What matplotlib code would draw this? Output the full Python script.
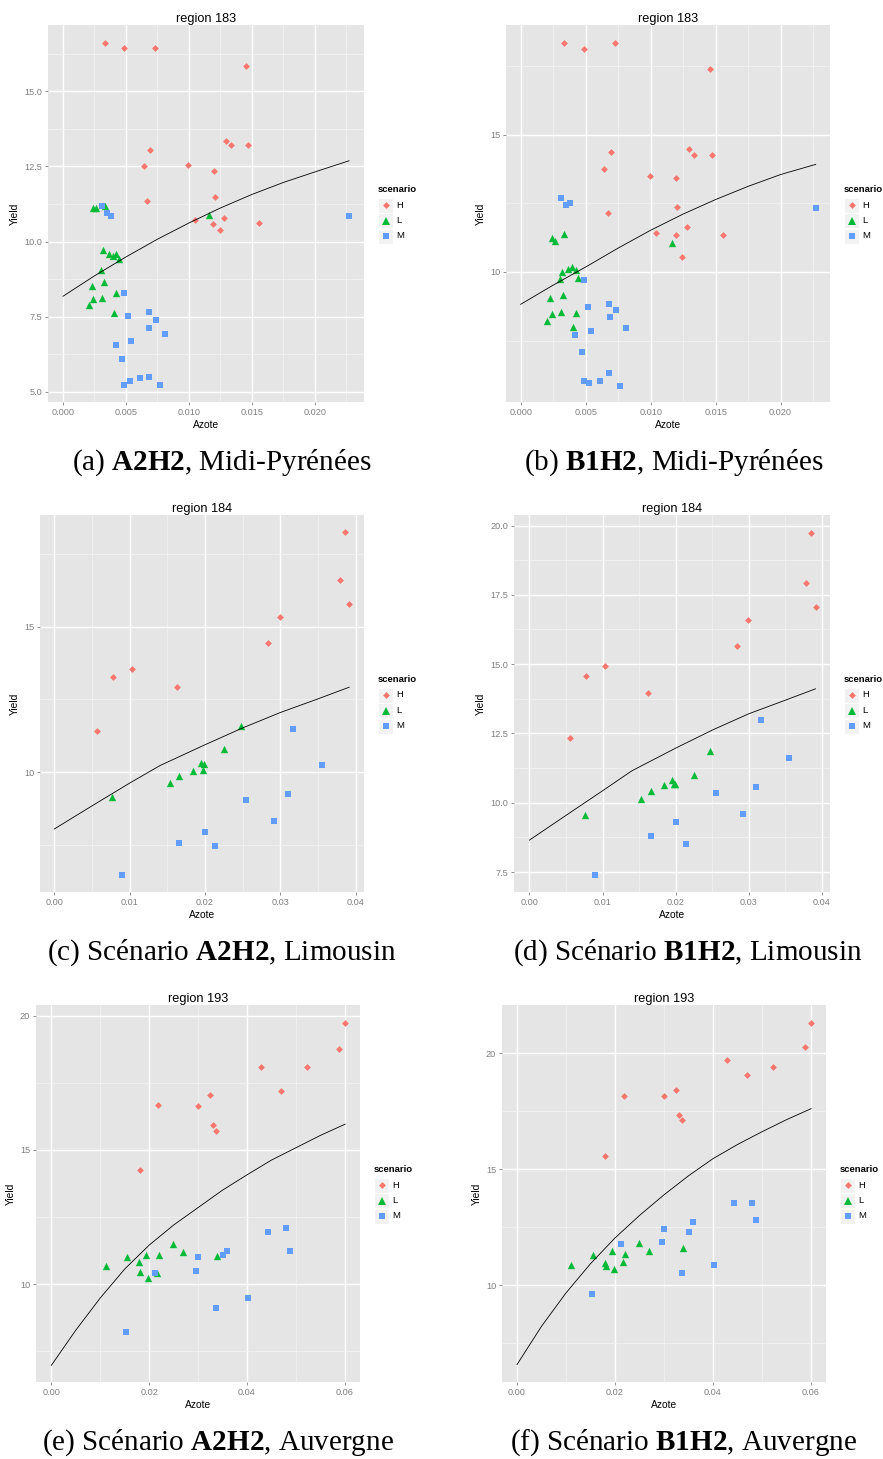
import matplotlib
matplotlib.use("Agg")
import matplotlib.pyplot as plt
from matplotlib.patches import Rectangle
from matplotlib.lines import Line2D

plt.rcParams['font.family'] = ['Liberation Sans', 'DejaVu Sans']
plt.rcParams['mathtext.fontset'] = 'custom'
plt.rcParams['mathtext.rm'] = 'Liberation Serif'
plt.rcParams['mathtext.bf'] = 'Liberation Serif:bold'

# ---------------- data ----------------
# region 183 (Midi-Pyrenees)
h183_x = [0.00333, 0.00487, 0.00728, 0.01455, 0.01294, 0.01331, 0.01471, 0.00693, 0.0064,
          0.00995, 0.01198, 0.00669, 0.01206, 0.01045, 0.01278, 0.01193, 0.01243, 0.01558]
h183_a = [16.62, 16.43, 16.46, 15.84, 13.36, 13.23, 13.2, 13.04, 12.5,
          12.56, 12.34, 11.36, 11.48, 10.71, 10.8, 10.58, 10.4, 10.61]
h183_b = [18.36, 18.11, 18.36, 17.41, 14.48, 14.28, 14.25, 14.38, 13.77,
          13.5, 13.43, 12.15, 12.36, 11.41, 11.64, 11.34, 10.54, 11.34]
l183_x = [0.00238, 0.00262, 0.00333, 0.01161, 0.00315, 0.00362, 0.00394, 0.00423, 0.00444,
          0.00299, 0.00323, 0.00228, 0.00423, 0.00241, 0.00307, 0.00204, 0.00402]
l183_a = [11.13, 11.12, 11.18, 10.88, 9.73, 9.58, 9.53, 9.58, 9.43,
          9.07, 8.66, 8.52, 8.3, 8.1, 8.12, 7.88, 7.63]
l183_b = [11.25, 11.13, 11.37, 11.06, 10.0, 10.12, 10.18, 10.06, 9.79,
          9.76, 9.15, 9.05, 8.52, 8.46, 8.54, 8.21, 8.0]
m183_x = [0.00312, 0.00347, 0.00378, 0.0227, 0.00487, 0.00519, 0.0068, 0.00735, 0.00685,
          0.0081, 0.00418, 0.00542, 0.00468, 0.00487, 0.00529, 0.00611, 0.0068, 0.00767]
m183_a = [11.2, 10.96, 10.84, 10.84, 8.3, 7.53, 7.66, 7.4, 7.12,
          6.93, 6.57, 6.69, 6.08, 5.23, 5.37, 5.47, 5.5, 5.22]
m183_b = [12.71, 12.45, 12.52, 12.32, 9.72, 8.71, 8.84, 8.6, 8.36,
          7.96, 7.71, 7.85, 7.08, 6.03, 5.96, 6.03, 6.33, 5.86]
c183_x = [0.0, 0.0025, 0.005, 0.0075, 0.010, 0.0125, 0.015, 0.0175, 0.020, 0.0227]
c183_a = [8.18, 8.86, 9.49, 10.08, 10.62, 11.12, 11.57, 11.97, 12.32, 12.69]
c183_b = [8.82, 9.52, 10.18, 10.87, 11.52, 12.11, 12.64, 13.12, 13.55, 13.92]

# region 184 (Limousin)
h184_x = [0.03854, 0.03788, 0.03912, 0.02992, 0.02833, 0.0103, 0.00773, 0.01622, 0.00561]
h184_c = [18.25, 16.62, 15.79, 15.34, 14.45, 13.56, 13.27, 12.92, 11.4]
h184_d = [19.74, 17.93, 17.07, 16.6, 15.66, 14.93, 14.57, 13.97, 12.33]
l184_x = [0.0076, 0.01529, 0.01657, 0.01843, 0.01949, 0.01993, 0.01971, 0.02254, 0.02471]
l184_c = [9.14, 9.61, 9.87, 10.03, 10.31, 10.29, 10.08, 10.79, 11.57]
l184_d = [9.57, 10.12, 10.42, 10.64, 10.81, 10.69, 10.66, 11.01, 11.88]
m184_x = [0.00897, 0.01657, 0.01998, 0.02139, 0.0255, 0.02922, 0.03098, 0.03173, 0.03549]
m184_c = [6.44, 7.56, 7.94, 7.44, 9.05, 8.3, 9.23, 11.49, 10.23]
m184_d = [7.38, 8.81, 9.3, 8.5, 10.34, 9.58, 10.55, 12.97, 11.6]
c184_x = [0.0, 0.0056, 0.010, 0.014, 0.020, 0.025, 0.030, 0.035, 0.03912]
c184_c = [8.04, 8.93, 9.62, 10.22, 10.94, 11.52, 12.05, 12.52, 12.92]
c184_d = [8.65, 9.65, 10.43, 11.15, 11.97, 12.62, 13.21, 13.70, 14.11]

# region 193 (Auvergne)
h193_x = [0.06007, 0.05878, 0.04293, 0.05231, 0.04687, 0.03252, 0.02184, 0.03007, 0.03306, 0.0336, 0.01803]
h193_e = [19.74, 18.76, 18.1, 18.08, 17.21, 17.03, 16.66, 16.64, 15.94, 15.69, 14.26]
h193_f = [21.31, 20.27, 19.71, 19.4, 19.07, 18.43, 18.16, 18.16, 17.33, 17.13, 15.56]
l193_x = [0.01109, 0.01551, 0.01789, 0.01939, 0.02204, 0.0249, 0.02694, 0.03388, 0.0181, 0.01986, 0.0217]
l193_e = [10.68, 11.0, 10.83, 11.08, 11.08, 11.49, 11.18, 11.03, 10.45, 10.21, 10.41]
l193_f = [10.88, 11.29, 10.95, 11.48, 11.35, 11.82, 11.48, 11.61, 10.81, 10.7, 10.98]
m193_x = [0.01531, 0.02116, 0.03, 0.02952, 0.03517, 0.03592, 0.0336, 0.04027, 0.04429, 0.04796, 0.04878]
m193_e = [8.23, 10.43, 11.0, 10.48, 11.07, 11.24, 9.09, 9.49, 11.95, 12.08, 11.24]
m193_f = [9.63, 11.77, 12.41, 11.85, 12.27, 12.73, 10.5, 10.88, 13.52, 13.56, 12.82]
c193_x = [0.0, 0.005, 0.010, 0.015, 0.020, 0.025, 0.030, 0.035, 0.040, 0.045, 0.050, 0.055, 0.06007]
c193_e = [6.97, 8.28, 9.48, 10.56, 11.45, 12.2, 12.85, 13.5, 14.07, 14.62, 15.08, 15.54, 15.96]
c193_f = [6.57, 8.22, 9.66, 10.92, 12.03, 13.0, 13.89, 14.71, 15.45, 16.06, 16.61, 17.13, 17.61]

# tick labels
xt183 = [0.000, 0.005, 0.010, 0.015, 0.020]
xl183 = ["0.000", "0.005", "0.010", "0.015", "0.020"]
xt184 = [0.00, 0.01, 0.02, 0.03, 0.04]
xl184 = ["0.00", "0.01", "0.02", "0.03", "0.04"]
xt193 = [0.00, 0.02, 0.04, 0.06]
xl193 = ["0.00", "0.02", "0.04", "0.06"]
yt_a = [5.0, 7.5, 10.0, 12.5, 15.0]
yl_a = ["5.0", "7.5", "10.0", "12.5", "15.0"]
yt_b = [10, 15]
yl_b = ["10", "15"]
yt_c = [10, 15]
yl_c = ["10", "15"]
yt_d = [7.5, 10.0, 12.5, 15.0, 17.5, 20.0]
yl_d = ["7.5", "10.0", "12.5", "15.0", "17.5", "20.0"]
yt_e = [10, 15, 20]
yl_e = ["10", "15", "20"]
yt_f = [10, 15, 20]
yl_f = ["10", "15", "20"]

titles = ["region 183", "region 183", "region 184", "region 184", "region 193", "region 193"]
captions = [r"(a) $\mathbf{A2H2}$, Midi-Pyrénées",
            r"(b) $\mathbf{B1H2}$, Midi-Pyrénées",
            r"(c) Scénario $\mathbf{A2H2}$, Limousin",
            r"(d) Scénario $\mathbf{B1H2}$, Limousin",
            r"(e) Scénario $\mathbf{A2H2}$, Auvergne",
            r"(f) Scénario $\mathbf{B1H2}$, Auvergne"]
scenarios = ["H", "L", "M"]

# ---------------- style ----------------
COL = {"H": "#F8766D", "L": "#00BA38", "M": "#619CFF"}
MRK = {"H": "D", "L": "^", "M": "s"}
SZ = {"H": 12, "L": 28, "M": 22}

W, H = 883, 1459
fig = plt.figure(figsize=(W / 100, H / 100), dpi=100)
fig.patch.set_facecolor("white")


def fx(x):
    return x / W


def fy(y):
    return 1 - y / H


def add_ax(x0, y0, x1, y1):
    return fig.add_axes([fx(x0), fy(y1), (x1 - x0) / W, (y1 - y0) / H])


def minors(ticks, lo, hi):
    step = ticks[1] - ticks[0]
    out = []
    t = ticks[0] - step / 2
    while t < hi:
        if t > lo:
            out.append(t)
        t += step
    return out


def legend(ax_right, ax_top):
    x0 = ax_right + 14
    fig.text(fx(x0), fy(ax_top + 165), "scenario", fontsize=6.8, fontweight="bold",
             ha="left", va="center")
    for i, s in enumerate(scenarios):
        yc = ax_top + 180 + i * 15.5
        fig.add_artist(Rectangle((fx(x0), fy(yc + 7.5)), 15 / W, 15 / H,
                                 transform=fig.transFigure, facecolor="#F2F2F2",
                                 edgecolor="white", lw=0.8))
        fig.add_artist(Line2D([fx(x0 + 7.5)], [fy(yc)], transform=fig.transFigure,
                              marker=MRK[s], color=COL[s], linestyle="none",
                              markersize=(SZ[s] ** 0.5), markeredgewidth=0))
        fig.text(fx(x0 + 18), fy(yc), s, fontsize=6.8, ha="left", va="center", color="black")


def panel(box, title, xt, xl, yt, yl, xlim, ylim, series, curve):
    ax = add_ax(*box)
    ax.set_facecolor("#E5E5E5")
    for sp in ax.spines.values():
        sp.set_visible(False)
    ax.set_xlim(*xlim)
    ax.set_ylim(*ylim)
    ax.set_xticks(xt)
    ax.set_xticklabels(xl)
    ax.set_yticks(yt)
    ax.set_yticklabels(yl)
    ax.set_xticks(minors(xt, xlim[0], xlim[1]), minor=True)
    ax.set_yticks(minors(yt, ylim[0], ylim[1]), minor=True)
    ax.grid(which="major", color="white", lw=1.0)
    ax.grid(which="minor", color="#F2F2F2", lw=0.6)
    ax.set_axisbelow(True)
    ax.tick_params(which="major", length=2.2, width=0.6, color="#7F7F7F",
                   labelsize=6.6, labelcolor="#7F7F7F", pad=2)
    ax.tick_params(which="minor", length=0)
    ax.set_xlabel("Azote", fontsize=7.4, labelpad=2)
    ax.set_ylabel("Yield", fontsize=7.4, labelpad=3)
    ax.set_title(title, fontsize=9.2, pad=2.5)
    for s, (xs, ys) in zip(scenarios, series):
        ax.scatter(xs, ys, marker=MRK[s], s=SZ[s], color=COL[s], linewidths=0, zorder=3)
    ax.plot(curve[0], curve[1], color="black", lw=0.6, zorder=4)
    legend(box[2], box[1])
    return ax


panel((48, 25, 364, 402), titles[0], xt183, xl183, yt_a, yl_a, (-0.00119, 0.02389), (4.66, 17.21),
      [(h183_x, h183_a), (l183_x, l183_a), (m183_x, m183_a)], (c183_x, c183_a))
panel((506, 25, 830, 402), titles[1], xt183, xl183, yt_b, yl_b, (-0.00113, 0.0238), (5.26, 19.0),
      [(h183_x, h183_b), (l183_x, l183_b), (m183_x, m183_b)], (c183_x, c183_b))
panel((40, 515, 364, 892), titles[2], xt184, xl184, yt_c, yl_c, (-0.0019, 0.0411), (5.87, 18.85),
      [(h184_x, h184_c), (l184_x, l184_c), (m184_x, m184_c)], (c184_x, c184_c))
panel((514, 515, 830, 892), titles[3], xt184, xl184, yt_d, yl_d, (-0.0021, 0.0411), (6.78, 20.38),
      [(h184_x, h184_d), (l184_x, l184_d), (m184_x, m184_d)], (c184_x, c184_d))
panel((36, 1005, 360, 1382), titles[4], xt193, xl193, yt_e, yl_e, (-0.00313, 0.0631), (6.35, 20.4),
      [(h193_x, h193_e), (l193_x, l193_e), (m193_x, m193_e)], (c193_x, c193_e))
panel((502, 1005, 826, 1382), titles[5], xt193, xl193, yt_f, yl_f, (-0.00306, 0.0631), (5.82, 22.08),
      [(h193_x, h193_f), (l193_x, l193_f), (m193_x, m193_f)], (c193_x, c193_f))

cap_pos = [(222, 463), (674, 463), (222, 953), (688, 953), (218, 1443), (684, 1443)]
for (cx, cy), txt in zip(cap_pos, captions):
    fig.text(fx(cx), fy(cy), txt, fontsize=21, family="Liberation Serif",
             ha="center", va="center")

fig.savefig("out.png", dpi=100)
